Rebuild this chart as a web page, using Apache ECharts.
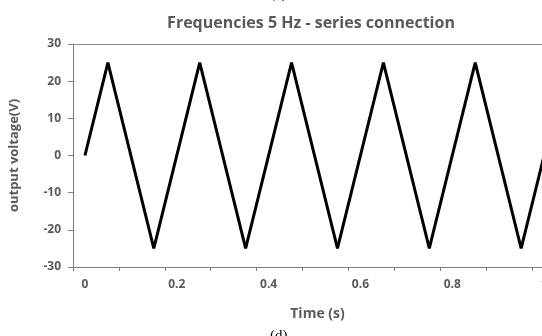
<!DOCTYPE html>
<html>
<head>
<meta charset="utf-8">
<script src="https://cdn.jsdelivr.net/npm/echarts@6/dist/echarts.min.js"></script>
<style>
  html, body { margin: 0; padding: 0; background: #fff; }
  #chart { width: 542px; height: 336px; }
</style>
</head>
<body>
<div id="chart"></div>
<script>
// triangle wave, 5 Hz
const times = [0, 0.05, 0.15, 0.25, 0.35, 0.45, 0.55, 0.65, 0.75, 0.85, 0.95, 1.0];
const voltage = [0, 25, -25, 25, -25, 25, -25, 25, -25, 25, -25, 0];
const xLabels = [0, 0.2, 0.4, 0.6, 0.8, 1];
const xTicks = [-0.026, 0.074, 0.174, 0.274, 0.374, 0.474, 0.574, 0.674, 0.774, 0.874, 0.974];
const yTicks = [-30, -20, -10, 0, 10, 20, 30];

const grey = "#595959";
const font = "'Open Sans', sans-serif";

var chart = echarts.init(document.getElementById("chart"));
var option = {
  animation: false,
  title: {
    text: "Frequencies 5 Hz - series connection",
    left: 306,
    top: 10,
    textAlign: "center",
    textStyle: { color: grey, fontFamily: font, fontWeight: "bold", fontSize: 16 }
  },
  graphic: [
    { type: "text", left: 270, top: -13, style: { text: "(c)", fontFamily: "serif", fontSize: 15, fill: "#000" } },
    { type: "text", left: 270, top: 329, style: { text: "(d)", fontFamily: "serif", fontSize: 15, fill: "#000" } }
  ],
  // plot area runs past the right edge of the picture
  grid: { left: 73, top: 44, right: -20, bottom: 69, outerBoundsMode: "none", containLabel: false },
  xAxis: [
    {
      type: "value",
      min: -0.026,
      max: 1.039,
      name: "Time (s)",
      nameLocation: "middle",
      nameGap: 40,
      nameTextStyle: { color: grey, fontFamily: font, fontWeight: "bold", fontSize: 14 },
      axisLine: { onZero: false, lineStyle: { color: "#7f7f7f", width: 1 } },
      axisTick: { show: true, customValues: xTicks, length: 4, lineStyle: { color: "#7f7f7f" } },
      axisLabel: {
        customValues: xLabels,
        color: grey, fontFamily: font, fontWeight: "bold", fontSize: 12, margin: 12,
        formatter: (v) => String(Math.round(v * 10) / 10)
      },
      splitLine: { show: false }
    },
    {
      type: "value",
      position: "top",
      min: 0,
      max: 1,
      axisLine: { show: true, onZero: false, lineStyle: { color: "#8c8c8c", width: 1 } },
      axisTick: { show: false },
      axisLabel: { show: false },
      splitLine: { show: false }
    }
  ],
  yAxis: {
    type: "value",
    min: -30,
    max: 30,
    interval: 10,
    name: "output voltage(V)",
    nameLocation: "middle",
    nameRotate: 90,
    nameGap: 52,
    nameTextStyle: { color: grey, fontFamily: font, fontWeight: "bold", fontSize: 13 },
    axisLine: { show: true, onZero: false, lineStyle: { color: "#7f7f7f", width: 1 } },
    axisTick: { show: true, length: 5, lineStyle: { color: "#7f7f7f" } },
    axisLabel: {
      customValues: yTicks,
      color: grey, fontFamily: font, fontWeight: "bold", fontSize: 12, margin: 12
    },
    splitLine: { show: false }
  },
  series: [
    {
      type: "line",
      data: times.map((t, i) => [t, voltage[i]]),
      showSymbol: false,
      lineStyle: { color: "#000", width: 3 },
      clip: true
    }
  ]
};
chart.setOption(option);
</script>
</body>
</html>
